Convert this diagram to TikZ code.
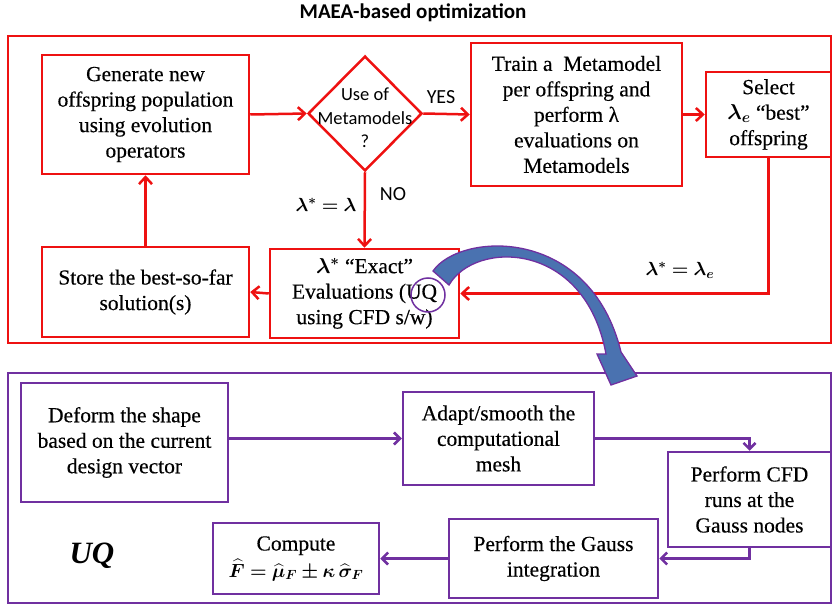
\documentclass[tikz,border=0pt]{standalone}
\usepackage{fix-cm}
\usepackage{amsmath,bm}
\usepackage{fontspec}
\setmainfont{Liberation Serif}
\newfontfamily\boxfont[FakeBold=0.35]{Liberation Serif}
\newfontfamily\calib{Carlito}
\usetikzlibrary{arrows.meta,shapes.geometric}
\definecolor{myred}{HTML}{EE1111}
\definecolor{mypurple}{HTML}{7030A0}
\definecolor{myblue}{HTML}{4A72B0}
\tikzset{
  boxtext/.style={font=\boxfont\fontsize{21.5}{25.5}\selectfont, align=center, inner sep=0pt},
  rbox/.style={draw=myred, line width=2.5pt, boxtext},
  pbox/.style={draw=mypurple, line width=2.5pt, boxtext},
  rarrow/.style={draw=myred, line width=2.5pt, -{Straight Barb[length=7pt,width=13pt,line width=2.5pt]}},
  parrow/.style={draw=mypurple, line width=2.5pt, -{Straight Barb[length=6pt,width=12pt,line width=2.5pt]}},
  sanslab/.style={font=\calib\fontsize{18.5}{23.5}\selectfont, align=center, inner sep=0pt},
  yeslab/.style={font=\calib\fontsize{20}{23.5}\selectfont, inner sep=0pt},
  mathlab/.style={font=\fontsize{19}{23}\selectfont, inner sep=0pt},
}
\begin{document}
\begin{tikzpicture}[x=1pt,y=-1pt]
\useasboundingbox (0,0) rectangle (832,607);

% title
\node[font=\calib\bfseries\fontsize{21}{24}\selectfont] (title) at (413,13) {MAEA-based optimization};

% red frame
\draw[myred, line width=2.5pt] (8,36) rectangle (831,343);

\node[rbox, minimum width=207pt, minimum height=119pt] (gen) at (145.5,114.5)
  {Generate new\\offspring population\\using evolution\\operators};
\node[draw=myred, line width=2.5pt, diamond, minimum width=114pt, minimum height=115pt, inner sep=0pt] (dia) at (365,113.5) {};
\node[sanslab] (dialab) at (365,118) {Use of\\Metamodels\\?};
\node[rbox, minimum width=211pt, minimum height=143pt] (train) at (576.5,114.5)
  {Train a\ \ Metamodel\\per offspring and\\perform λ\\evaluations on\\Metamodels};
\node[rbox, minimum width=125pt, minimum height=85pt] (sel) at (768.5,114.5)
  {Select\\$\bm{\lambda_e}$ “best”\\offspring};
\node[rbox, minimum width=207pt, minimum height=90pt] (store) at (145.5,292)
  {Store the best-so-far\\solution(s)};
\node[rbox, minimum width=189pt, minimum height=89pt] (exact) at (364.5,293.5)
  {$\bm{\lambda^{*}}$ “Exact”\\Evaluations (UQ\\using CFD s/w)};

\draw[rarrow] (gen.east) -- (dia.west);
\draw[rarrow] (dia.east) -- (train.west);
\draw[rarrow] (train.east) -- (sel.west);
\draw[rarrow] (sel.south) |- (exact.east);
\draw[rarrow] (dia.south) -- (exact.north);
\draw[rarrow] (exact.west) -- (store.east);
\draw[rarrow] (store.north) -- (gen.south);

\node[yeslab] (yes) at (441,97) {YES};
\node[yeslab] (no) at (393,194) {NO};
\node[mathlab] (l1) at (326,205) {$\bm{\lambda^{*}=\lambda}$};
\node[mathlab] (l2) at (680,270) {$\bm{\lambda^{*}=\lambda_e}$};

% purple frame
\draw[mypurple, line width=2.5pt] (8,373) rectangle (831,603);

\node[pbox, minimum width=207pt, minimum height=119pt] (def) at (124.5,442.5)
  {Deform the shape\\based on the current\\design vector};
\node[pbox, minimum width=191pt, minimum height=93pt] (adapt) at (498.5,438.5)
  {Adapt/smooth the\\computational\\mesh};
\node[pbox, minimum width=163pt, minimum height=95pt] (cfd) at (749.5,499.5)
  {Perform CFD\\runs at the\\Gauss nodes};
\node[pbox, minimum width=209pt, minimum height=79pt] (gauss) at (553.5,558.5)
  {Perform the Gauss\\integration};
\node[pbox, minimum width=166pt, minimum height=71pt] (comp) at (296,558.5)
  {Compute\\[1pt]\fontsize{19}{23}\selectfont$\bm{\widehat{F}=\widehat{\mu}_F\pm\kappa\,\widehat{\sigma}_F}$};
\node[font=\fontsize{31}{31}\selectfont\bfseries\itshape] (uq) at (92,556) {UQ};

\draw[parrow] (adapt.west -| def.east) -- (adapt.west);
\draw[parrow] (adapt.east) -| (cfd.north);
\draw[parrow] (cfd.south) |- (gauss.east);
\draw[parrow] (gauss.west) -- (comp.east);

% big curved arrow
\draw[mypurple, line width=1.3pt, fill=myblue]
  (433,271) .. controls (460,232) and (590,225) .. (621,352)
  -- (637,376) -- (611,385) -- (597,354) -- (606,354)
  .. controls (585,240) and (475,240) .. (449,285) -- cycle;
\draw[mypurple, line width=1.5pt] (428,295) circle (17);
\end{tikzpicture}
\end{document}
